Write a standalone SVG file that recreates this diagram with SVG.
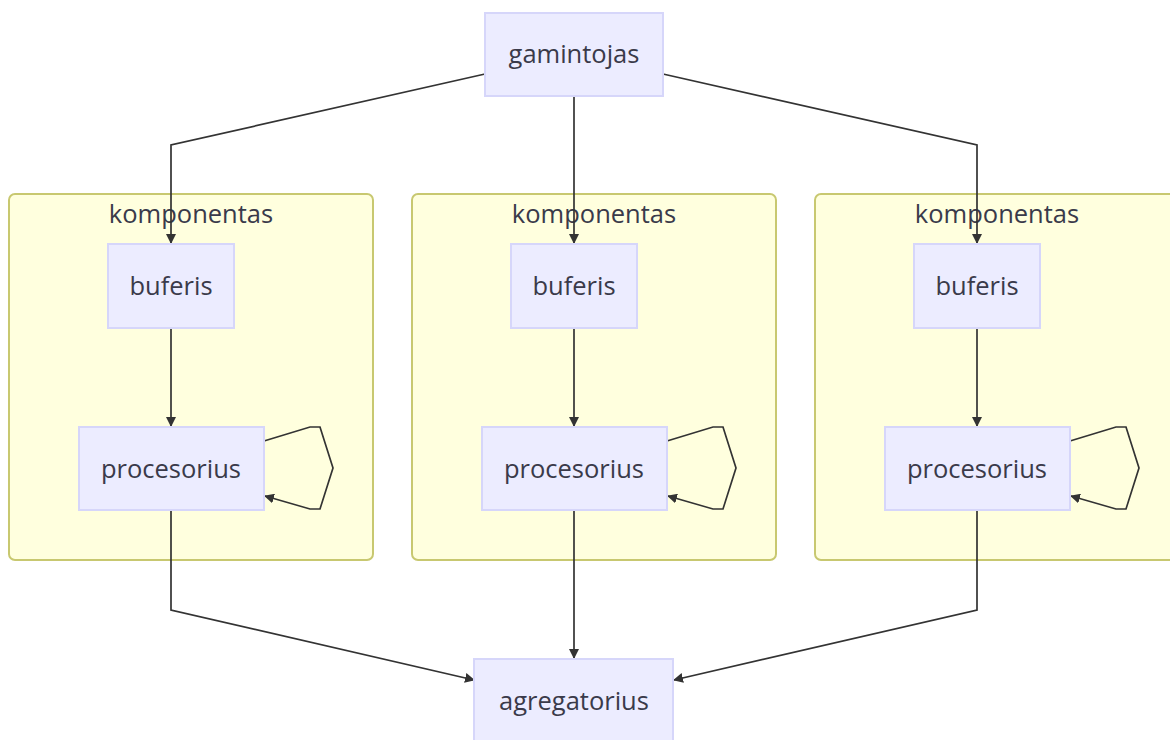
<svg xmlns="http://www.w3.org/2000/svg" width="1170" height="740" viewBox="0 0 1170 740">
  <style>
    .cluster rect { fill: #ffffde; stroke: #c8c870; stroke-width: 2; }
    .node rect { fill: #ececff; stroke: #d6d6fa; stroke-width: 2; }
    text { font-family: "Open Sans", "Noto Sans", "DejaVu Sans", sans-serif; font-size: 25.5px; fill: #3a3a4a; text-anchor: middle; }
    .edge { fill: none; stroke: #333; stroke-width: 1.7; }
  </style>
  <defs>
    <marker id="arrow" viewBox="0 0 10 10" refX="9" refY="5" markerWidth="10" markerHeight="10" markerUnits="userSpaceOnUse" orient="auto">
      <path d="M0,0 L10,5 L0,10 z" fill="#333"/>
    </marker>
  </defs>
  <rect width="1170" height="740" fill="#fff"/>

  <!-- subgraphs -->
  <g id="cluster1" class="cluster">
    <rect x="9" y="194" width="364" height="366" rx="6"/>
    <text x="191" y="223">komponentas</text>
  </g>
  <g id="cluster2" class="cluster">
    <rect x="412" y="194" width="364" height="366" rx="6"/>
    <text x="594" y="223">komponentas</text>
  </g>
  <g id="cluster3" class="cluster">
    <rect x="815" y="194" width="364" height="366" rx="6"/>
    <text x="997" y="223">komponentas</text>
  </g>

  <!-- connectors -->
  <g id="edges" class="edges">
    <path class="edge" d="M485,74 L171,145 L171,243" marker-end="url(#arrow)"/>
    <path class="edge" d="M574,96 L574,243" marker-end="url(#arrow)"/>
    <path class="edge" d="M663,74 L977,145 L977,243" marker-end="url(#arrow)"/>

    <path class="edge" d="M171,328 L171,426" marker-end="url(#arrow)"/>
    <path class="edge" d="M574,328 L574,426" marker-end="url(#arrow)"/>
    <path class="edge" d="M977,328 L977,426" marker-end="url(#arrow)"/>

    <path class="edge" d="M264,441 L310,427 L320,427 L333,468 L320,509 L310,509 L265,496" marker-end="url(#arrow)"/>
    <path class="edge" d="M667,441 L713,427 L723,427 L736,468 L723,509 L713,509 L668,496" marker-end="url(#arrow)"/>
    <path class="edge" d="M1070,441 L1116,427 L1126,427 L1139,468 L1126,509 L1116,509 L1071,496" marker-end="url(#arrow)"/>

    <path class="edge" d="M171,510 L171,610 L474,680" marker-end="url(#arrow)"/>
    <path class="edge" d="M574,510 L574,658" marker-end="url(#arrow)"/>
    <path class="edge" d="M977,510 L977,610 L674,680" marker-end="url(#arrow)"/>
  </g>

  <!-- nodes -->
  <g id="gamintojas" class="node">
    <rect x="485" y="13" width="178" height="83"/>
    <text x="574" y="63">gamintojas</text>
  </g>
  <g id="buferis1" class="node">
    <rect x="108" y="244" width="126" height="84"/>
    <text x="171" y="295">buferis</text>
  </g>
  <g id="procesorius1" class="node">
    <rect x="79" y="427" width="185" height="83"/>
    <text x="171" y="478">procesorius</text>
  </g>
  <g id="buferis2" class="node">
    <rect x="511" y="244" width="126" height="84"/>
    <text x="574" y="295">buferis</text>
  </g>
  <g id="procesorius2" class="node">
    <rect x="482" y="427" width="185" height="83"/>
    <text x="574" y="478">procesorius</text>
  </g>
  <g id="buferis3" class="node">
    <rect x="914" y="244" width="126" height="84"/>
    <text x="977" y="295">buferis</text>
  </g>
  <g id="procesorius3" class="node">
    <rect x="885" y="427" width="185" height="83"/>
    <text x="977" y="478">procesorius</text>
  </g>
  <g id="agregatorius" class="node">
    <rect x="474" y="659" width="199" height="83"/>
    <text x="574" y="710">agregatorius</text>
  </g>
</svg>
